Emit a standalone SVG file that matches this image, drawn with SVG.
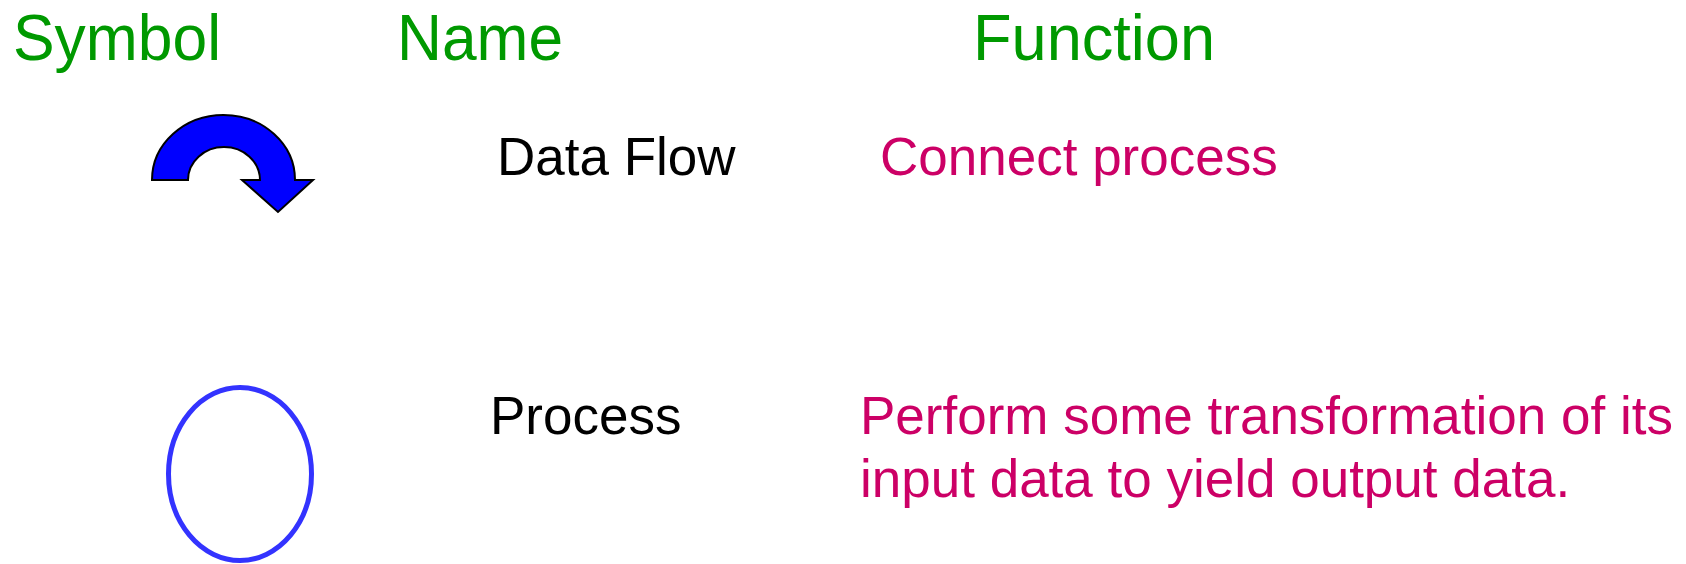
<svg xmlns="http://www.w3.org/2000/svg" width="1686" height="564" viewBox="0 0 1686 564">
  <style>
    text { font-family: "Liberation Sans", Arial, sans-serif; }
    .head { font-size: 64px; fill: #009900; }
    .name { font-size: 53px; fill: #000000; }
    .func { font-size: 53px; fill: #CC0066; }
    .flow { fill: #0000FF; stroke: #000000; stroke-width: 2; stroke-linejoin: miter; }
    .proc { fill: none; stroke: #3333FF; stroke-width: 5; }
  </style>
  <rect width="1686" height="564" fill="#FFFFFF"/>

  <!-- column headings -->
  <g id="headings">
    <text class="head" x="13" y="60" textLength="208" lengthAdjust="spacingAndGlyphs">Symbol</text>
    <text class="head" x="397" y="60" textLength="166" lengthAdjust="spacingAndGlyphs">Name</text>
    <text class="head" x="973" y="60" textLength="242" lengthAdjust="spacingAndGlyphs">Function</text>
  </g>

  <!-- curved data-flow arrow symbol -->
  <g id="data-flow">
    <path class="flow" d="M152,180 A71.5,65 0 0 1 295,180 L313,180 L278,212 L242,180 L260,180 A36,33 0 0 0 188,180 Z"/>
    <text class="name" x="497" y="175">Data Flow</text>
    <text class="func" x="880" y="175">Connect process</text>
  </g>

  <!-- process bubble symbol -->
  <g id="process">
    <ellipse class="proc" cx="240" cy="474" rx="71.5" ry="86.5"/>
    <text class="name" x="490" y="434">Process</text>
    <text class="func" x="860" y="434">Perform some transformation of its</text>
    <text class="func" x="860" y="497">input data to yield output data.</text>
  </g>

  <g id="connectors"/>
</svg>
